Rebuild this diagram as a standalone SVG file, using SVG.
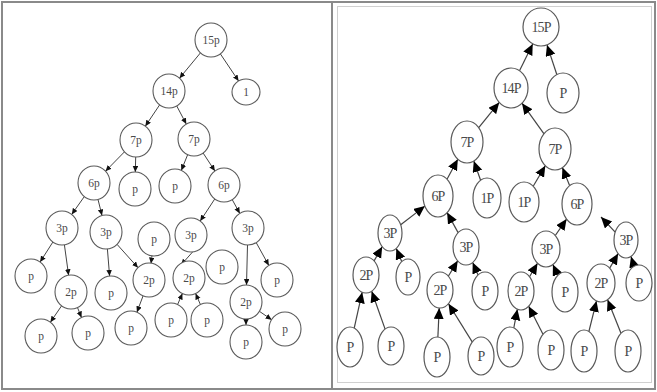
<svg xmlns="http://www.w3.org/2000/svg" width="657" height="392" viewBox="0 0 657 392">
<style>
.frame{fill:none;stroke:#8a8a8a;stroke-width:2}
.inner{fill:none;stroke:#d0d0d0;stroke-width:1}
.ln circle,.ln ellipse{fill:#fff;stroke:#5a5a5a;stroke-width:1.1}
.rn ellipse{fill:#fff;stroke:#5a5a5a;stroke-width:1.2}
.lt{font-family:"Liberation Serif",serif;font-size:11.5px;fill:#4a4a4a;text-anchor:middle;dominant-baseline:central}
.rt{font-family:"Liberation Serif",serif;font-size:14px;fill:#4a4a4a;text-anchor:middle;dominant-baseline:central;letter-spacing:-0.9px}
.le line{stroke:#444;stroke-width:1}
.re line{stroke:#444;stroke-width:1.2}
</style>
<defs>
<marker id="sa" markerUnits="userSpaceOnUse" markerWidth="7" markerHeight="6" refX="6" refY="2.75" orient="auto">
<path d="M0,0 L6,2.75 L0,5.5 z" fill="#111"/>
</marker>
<marker id="ba" markerUnits="userSpaceOnUse" markerWidth="12" markerHeight="11" refX="11" refY="5" orient="auto">
<path d="M0,0 L11,5 L0,10 z" fill="#000"/>
</marker>
</defs>
<rect x="0" y="0" width="657" height="392" fill="#fff"/>
<rect class="frame" x="2" y="2" width="653" height="387"/>
<line class="frame" x1="332" y1="2" x2="332" y2="389"/>
<rect class="inner" x="337.5" y="6.5" width="314" height="376"/>

<g id="left-edges" class="le">
<line x1="200.5" y1="52.8" x2="179.5" y2="78.2" marker-end="url(#sa)"/>
<line x1="220.3" y1="53.8" x2="238.6" y2="81" marker-end="url(#sa)"/>
<line x1="159.7" y1="104.8" x2="145.3" y2="126.2" marker-end="url(#sa)"/>
<line x1="176.7" y1="105.9" x2="186.3" y2="124.1" marker-end="url(#sa)"/>
<line x1="124.5" y1="151.8" x2="105.5" y2="171.2" marker-end="url(#sa)"/>
<line x1="135.7" y1="157" x2="135.3" y2="172" marker-end="url(#sa)"/>
<line x1="187.7" y1="154.6" x2="181.3" y2="170.4" marker-end="url(#sa)"/>
<line x1="203.1" y1="153" x2="214.9" y2="171" marker-end="url(#sa)"/>
<line x1="84.3" y1="196.6" x2="71.7" y2="214.4" marker-end="url(#sa)"/>
<line x1="98" y1="199.5" x2="102" y2="215.5" marker-end="url(#sa)"/>
<line x1="214.8" y1="198.9" x2="200.2" y2="221.1" marker-end="url(#sa)"/>
<line x1="232.2" y1="199.6" x2="239.8" y2="213.4" marker-end="url(#sa)"/>
<line x1="52.9" y1="242" x2="40.1" y2="262" marker-end="url(#sa)"/>
<line x1="64.4" y1="244.8" x2="68.6" y2="275.2" marker-end="url(#sa)"/>
<line x1="107.4" y1="249" x2="109.6" y2="276" marker-end="url(#sa)"/>
<line x1="117" y1="244.3" x2="138" y2="267.7" marker-end="url(#sa)"/>
<line x1="152" y1="255.5" x2="151" y2="263.5" marker-end="url(#sa)"/>
<line x1="193" y1="251.5" x2="181" y2="265" marker-end="url(#sa)"/>
<line x1="143.1" y1="295.8" x2="136.9" y2="312.2" marker-end="url(#sa)"/>
<line x1="177.6" y1="304.5" x2="182.4" y2="293.5" marker-end="url(#sa)"/>
<line x1="200.4" y1="304.5" x2="195.6" y2="293.5" marker-end="url(#sa)"/>
<line x1="247.5" y1="245" x2="246.5" y2="285" marker-end="url(#sa)"/>
<line x1="256.2" y1="242.6" x2="268.8" y2="265.4" marker-end="url(#sa)"/>
<line x1="246" y1="318" x2="246" y2="325" marker-end="url(#sa)"/>
<line x1="259.4" y1="311.3" x2="271.6" y2="319.7" marker-end="url(#sa)"/>
<line x1="61.6" y1="305.8" x2="50.4" y2="322.2" marker-end="url(#sa)"/>
<line x1="77.5" y1="307.6" x2="81.5" y2="317.4" marker-end="url(#sa)"/>
</g>

<g class="ln">
<g id="L15p"><ellipse cx="211" cy="40" rx="16" ry="17"/><text class="lt" x="211" y="40">15p</text></g>
<g id="L1"><ellipse cx="246" cy="92" rx="14" ry="13"/><text class="lt" x="246" y="92">1</text></g>
<g id="L14p"><ellipse cx="169" cy="91" rx="16" ry="17"/><text class="lt" x="169" y="91">14p</text></g>
<g id="L7pa"><ellipse cx="136" cy="140" rx="16" ry="17"/><text class="lt" x="136" y="140">7p</text></g>
<g id="L7pb"><ellipse cx="194" cy="139" rx="16" ry="17"/><text class="lt" x="194" y="139">7p</text></g>
<g id="L6pa"><ellipse cx="94" cy="183" rx="16" ry="17"/><text class="lt" x="94" y="183">6p</text></g>
<g id="Lpa"><ellipse cx="135" cy="189" rx="16" ry="17"/><text class="lt" x="135" y="189">p</text></g>
<g id="Lpb"><ellipse cx="175" cy="186" rx="16" ry="17"/><text class="lt" x="175" y="186">p</text></g>
<g id="L6pb"><ellipse cx="224" cy="185" rx="16" ry="17"/><text class="lt" x="224" y="185">6p</text></g>
<g id="L3pa"><ellipse cx="62" cy="228" rx="16" ry="17"/><text class="lt" x="62" y="228">3p</text></g>
<g id="L3pb"><ellipse cx="106" cy="232" rx="16" ry="17"/><text class="lt" x="106" y="232">3p</text></g>
<g id="Lpc"><ellipse cx="154" cy="239" rx="16" ry="17"/><text class="lt" x="154" y="239">p</text></g>
<g id="L3pc"><ellipse cx="191" cy="235" rx="16" ry="17"/><text class="lt" x="191" y="235">3p</text></g>
<g id="L3pd"><ellipse cx="248" cy="228" rx="16" ry="17"/><text class="lt" x="248" y="228">3p</text></g>
<g id="Lpd"><ellipse cx="31" cy="276" rx="16" ry="17"/><text class="lt" x="31" y="276">p</text></g>
<g id="L2pa"><ellipse cx="71" cy="292" rx="16" ry="17"/><text class="lt" x="71" y="292">2p</text></g>
<g id="Lpe"><ellipse cx="111" cy="293" rx="16" ry="17"/><text class="lt" x="111" y="293">p</text></g>
<g id="L2pb"><ellipse cx="149" cy="280" rx="16" ry="17"/><text class="lt" x="149" y="280">2p</text></g>
<g id="L2pc"><ellipse cx="189" cy="278" rx="16" ry="17"/><text class="lt" x="189" y="278">2p</text></g>
<g id="Lpf"><ellipse cx="222" cy="267" rx="16" ry="17"/><text class="lt" x="222" y="267">p</text></g>
<g id="Lpg"><ellipse cx="277" cy="280" rx="16" ry="17"/><text class="lt" x="277" y="280">p</text></g>
<g id="L2pd"><ellipse cx="246" cy="302" rx="16" ry="17"/><text class="lt" x="246" y="302">2p</text></g>
<g id="Lph"><ellipse cx="41" cy="336" rx="16" ry="17"/><text class="lt" x="41" y="336">p</text></g>
<g id="Lpi"><ellipse cx="88" cy="333" rx="16" ry="17"/><text class="lt" x="88" y="333">p</text></g>
<g id="Lpj"><ellipse cx="131" cy="328" rx="16" ry="17"/><text class="lt" x="131" y="328">p</text></g>
<g id="Lpk"><ellipse cx="171" cy="320" rx="16" ry="17"/><text class="lt" x="171" y="320">p</text></g>
<g id="Lpl"><ellipse cx="207" cy="320" rx="16" ry="17"/><text class="lt" x="207" y="320">p</text></g>
<g id="Lpm"><ellipse cx="246" cy="342" rx="16" ry="17"/><text class="lt" x="246" y="342">p</text></g>
<g id="Lpn"><ellipse cx="285" cy="329" rx="16" ry="17"/><text class="lt" x="285" y="329">p</text></g>
</g>

<g id="right-edges" class="re">
<line x1="519.5" y1="70.7" x2="532.7" y2="43.9" marker-end="url(#ba)"/>
<line x1="556.8" y1="74.5" x2="547" y2="44.9" marker-end="url(#ba)"/>
<line x1="478.7" y1="127.7" x2="499.2" y2="102.4" marker-end="url(#ba)"/>
<line x1="544" y1="133.8" x2="522" y2="103.2" marker-end="url(#ba)"/>
<line x1="447" y1="179.2" x2="457.8" y2="159.2" marker-end="url(#ba)"/>
<line x1="480.6" y1="180.2" x2="473.8" y2="161" marker-end="url(#ba)"/>
<line x1="533.2" y1="186.2" x2="545.3" y2="165.7" marker-end="url(#ba)"/>
<line x1="569.7" y1="185.7" x2="562.4" y2="167.6" marker-end="url(#ba)"/>
<line x1="400.7" y1="224.8" x2="424.9" y2="206.1" marker-end="url(#ba)"/>
<line x1="458.1" y1="232.6" x2="447.1" y2="212.6" marker-end="url(#ba)"/>
<line x1="555.3" y1="235.5" x2="566.6" y2="219.1" marker-end="url(#ba)"/>
<line x1="615.2" y1="232.1" x2="601" y2="217" marker-end="url(#ba)"/>
<line x1="374.1" y1="260.9" x2="382.2" y2="246.7" marker-end="url(#ba)"/>
<line x1="401.7" y1="261.6" x2="396.3" y2="248.4" marker-end="url(#ba)"/>
<line x1="448.3" y1="276.2" x2="457.7" y2="260.8" marker-end="url(#ba)"/>
<line x1="478.1" y1="274.9" x2="472.7" y2="262.4" marker-end="url(#ba)"/>
<line x1="529.5" y1="276.7" x2="537.5" y2="263.3" marker-end="url(#ba)"/>
<line x1="557.7" y1="275.4" x2="552.9" y2="264.6" marker-end="url(#ba)"/>
<line x1="609.7" y1="268.1" x2="618.1" y2="253.6" marker-end="url(#ba)"/>
<line x1="634" y1="266.4" x2="631" y2="256.4" marker-end="url(#ba)"/>
<line x1="354.2" y1="328.1" x2="362.2" y2="292.2" marker-end="url(#ba)"/>
<line x1="385.1" y1="329.1" x2="371.7" y2="291.2" marker-end="url(#ba)"/>
<line x1="437.9" y1="337" x2="439.2" y2="308" marker-end="url(#ba)"/>
<line x1="472.2" y1="341.9" x2="448.5" y2="303.7" marker-end="url(#ba)"/>
<line x1="513.8" y1="327.9" x2="517.4" y2="309.2" marker-end="url(#ba)"/>
<line x1="543" y1="334.2" x2="528.7" y2="306.2" marker-end="url(#ba)"/>
<line x1="588.9" y1="331.5" x2="596.5" y2="300.9" marker-end="url(#ba)"/>
<line x1="621" y1="333.3" x2="607.6" y2="299.7" marker-end="url(#ba)"/>
</g>

<g class="rn">
<g id="R15P"><ellipse cx="541" cy="27" rx="18" ry="19"/><text class="rt" x="541" y="27">15P</text></g>
<g id="RPa"><ellipse cx="563" cy="93" rx="16" ry="20"/><text class="rt" x="563" y="93">P</text></g>
<g id="R14P"><ellipse cx="511" cy="88" rx="17" ry="20"/><text class="rt" x="511" y="88">14P</text></g>
<g id="R7Pa"><ellipse cx="467" cy="142" rx="16" ry="21"/><text class="rt" x="467" y="142">7P</text></g>
<g id="R7Pb"><ellipse cx="555" cy="149" rx="16" ry="21"/><text class="rt" x="555" y="149">7P</text></g>
<g id="R6Pa"><ellipse cx="438" cy="196" rx="15" ry="21"/><text class="rt" x="438" y="196">6P</text></g>
<g id="R1Pa"><ellipse cx="487" cy="198" rx="14" ry="20"/><text class="rt" x="487" y="198">1P</text></g>
<g id="R1Pb"><ellipse cx="524" cy="202" rx="15" ry="20"/><text class="rt" x="524" y="202">1P</text></g>
<g id="R6Pb"><ellipse cx="577" cy="204" rx="15" ry="21"/><text class="rt" x="577" y="204">6P</text></g>
<g id="R3Pa"><ellipse cx="390" cy="233" rx="12" ry="18"/><text class="rt" x="390" y="233">3P</text></g>
<g id="R3Pb"><ellipse cx="466" cy="247" rx="13" ry="18"/><text class="rt" x="466" y="247">3P</text></g>
<g id="R3Pc"><ellipse cx="546" cy="249" rx="14" ry="18"/><text class="rt" x="546" y="249">3P</text></g>
<g id="R3Pd"><ellipse cx="626" cy="240" rx="12" ry="18"/><text class="rt" x="626" y="240">3P</text></g>
<g id="R2Pa"><ellipse cx="366" cy="275" rx="13" ry="18"/><text class="rt" x="366" y="275">2P</text></g>
<g id="RPb"><ellipse cx="408" cy="277" rx="12" ry="18"/><text class="rt" x="408" y="277">P</text></g>
<g id="R2Pb"><ellipse cx="440" cy="290" rx="13" ry="18"/><text class="rt" x="440" y="290">2P</text></g>
<g id="RPc"><ellipse cx="485" cy="291" rx="13" ry="19"/><text class="rt" x="485" y="291">P</text></g>
<g id="R2Pc"><ellipse cx="521" cy="291" rx="13" ry="19"/><text class="rt" x="521" y="291">2P</text></g>
<g id="RPd"><ellipse cx="565" cy="292" rx="13" ry="20"/><text class="rt" x="565" y="292">P</text></g>
<g id="R2Pd"><ellipse cx="601" cy="283" rx="14" ry="19"/><text class="rt" x="601" y="283">2P</text></g>
<g id="RPe"><ellipse cx="639" cy="283" rx="13" ry="18"/><text class="rt" x="639" y="283">P</text></g>
<g id="RPf"><ellipse cx="350" cy="347" rx="13" ry="20"/><text class="rt" x="350" y="347">P</text></g>
<g id="RPg"><ellipse cx="391" cy="346" rx="13" ry="19"/><text class="rt" x="391" y="346">P</text></g>
<g id="RPh"><ellipse cx="437" cy="357" rx="13" ry="20"/><text class="rt" x="437" y="357">P</text></g>
<g id="RPi"><ellipse cx="481" cy="356" rx="13" ry="19"/><text class="rt" x="481" y="356">P</text></g>
<g id="RPj"><ellipse cx="510" cy="347" rx="13" ry="20"/><text class="rt" x="510" y="347">P</text></g>
<g id="RPk"><ellipse cx="551" cy="350" rx="13" ry="20"/><text class="rt" x="551" y="350">P</text></g>
<g id="RPl"><ellipse cx="584" cy="351" rx="13" ry="21"/><text class="rt" x="584" y="351">P</text></g>
<g id="RPm"><ellipse cx="628" cy="351" rx="13" ry="21"/><text class="rt" x="628" y="351">P</text></g>
</g>
</svg>
